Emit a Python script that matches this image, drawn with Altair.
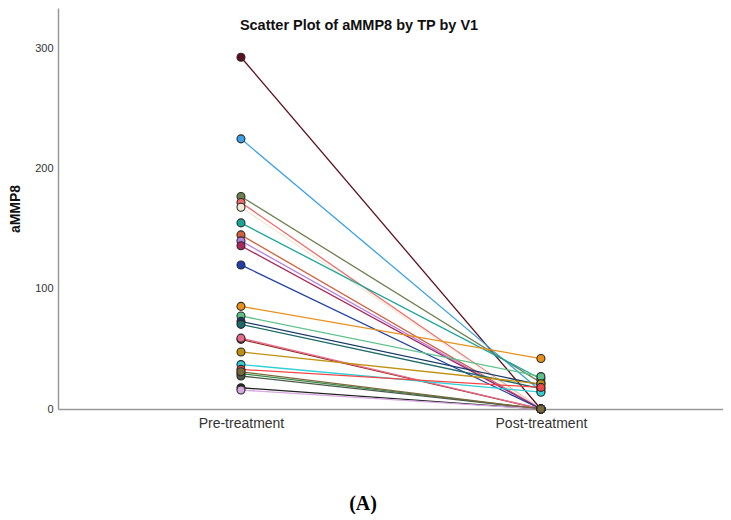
import altair as alt
import pandas as pd

subjects = [f"S{i:02d}" for i in range(1, 25)]
pre_values = [293, 225, 177, 172, 168, 155, 145, 140, 136, 120,
              85.5, 77.5, 73, 70.5, 58, 59, 47.5, 37, 33, 29.5,
              27.5, 17.7, 15.8, 31]
post_values = [0, 15, 22, 0, 0, 25, 0, 0, 0, 0,
               42, 27, 20, 17, 0, 0, 21, 14, 18, 0,
               0, 0, 0, 0]
colors = ["#5c0f1e", "#3aa0e8", "#6b7f4f", "#f06a6a", "#f1ead6", "#1aa59a",
          "#d2603a", "#b57fe8", "#a8285a", "#1f3fa8", "#e8901a", "#5cc28a",
          "#1a3a6a", "#1c6a6a", "#8a2a1a", "#e86a8a", "#c09010", "#30d0d8",
          "#f04848", "#3a8a4a", "#4a5a4a", "#222222", "#d8a8e0", "#7a6a3a"]
tp_labels = ["Pre-treatment", "Post-treatment"]

rows = []
for s, a, b in zip(subjects, pre_values, post_values):
    rows.append({"id": s, "tp": 0, "aMMP8": a})
    rows.append({"id": s, "tp": 1, "aMMP8": b})
df = pd.DataFrame(rows)

xscale = alt.Scale(domain=[-0.61, 1.607], nice=False, zero=False)
yscale = alt.Scale(domain=[0, 334], nice=False)
cscale = alt.Scale(domain=subjects, range=colors)

x = alt.X("tp:Q", scale=xscale,
          axis=alt.Axis(values=[0, 1], title=None, grid=False, ticks=False,
                        labelExpr="datum.value == 0 ? 'Pre-treatment' : 'Post-treatment'",
                        labelFont="Liberation Sans", labelFontSize=14, labelColor="#333333",
                        labelPadding=7, domainColor="#999999", domainWidth=1.5))
y = alt.Y("aMMP8:Q", scale=yscale,
          axis=alt.Axis(values=[0, 100, 200, 300], title="aMMP8", grid=False, ticks=False,
                        labelFont="Liberation Sans", labelFontSize=11, labelColor="#333333",
                        labelPadding=5, domainColor="#999999", domainWidth=1.5,
                        titleFont="Liberation Sans", titleFontSize=14, titleFontWeight="bold",
                        titleColor="#111111", titlePadding=12))

base = alt.Chart(df)
lines = base.mark_line(strokeWidth=1.3).encode(
    x=x, y=y, color=alt.Color("id:N", scale=cscale, legend=None), detail="id:N")
points = base.mark_circle(size=64, opacity=1, stroke="#2a2a2a", strokeWidth=1.1).encode(
    x=x, y=y, color=alt.Color("id:N", scale=cscale, legend=None))

title = alt.Chart(pd.DataFrame({"t": ["Scatter Plot of aMMP8 by TP by V1"]})).mark_text(
    font="Liberation Sans", fontSize=14.5, fontWeight="bold", color="#111111").encode(
    text="t:N", x=alt.value(301), y=alt.value(18))
label = alt.Chart(pd.DataFrame({"t": ["(A)"]})).mark_text(
    font="Liberation Serif", fontSize=20, fontWeight="bold", color="#000000").encode(
    text="t:N", x=alt.value(305), y=alt.value(496))

chart = alt.layer(lines, points, title, label).properties(
    width=665, height=401, padding=0, background="white"
).configure_view(stroke=None)

chart.save("out.html", embed_options={"renderer": "svg", "actions": False})
